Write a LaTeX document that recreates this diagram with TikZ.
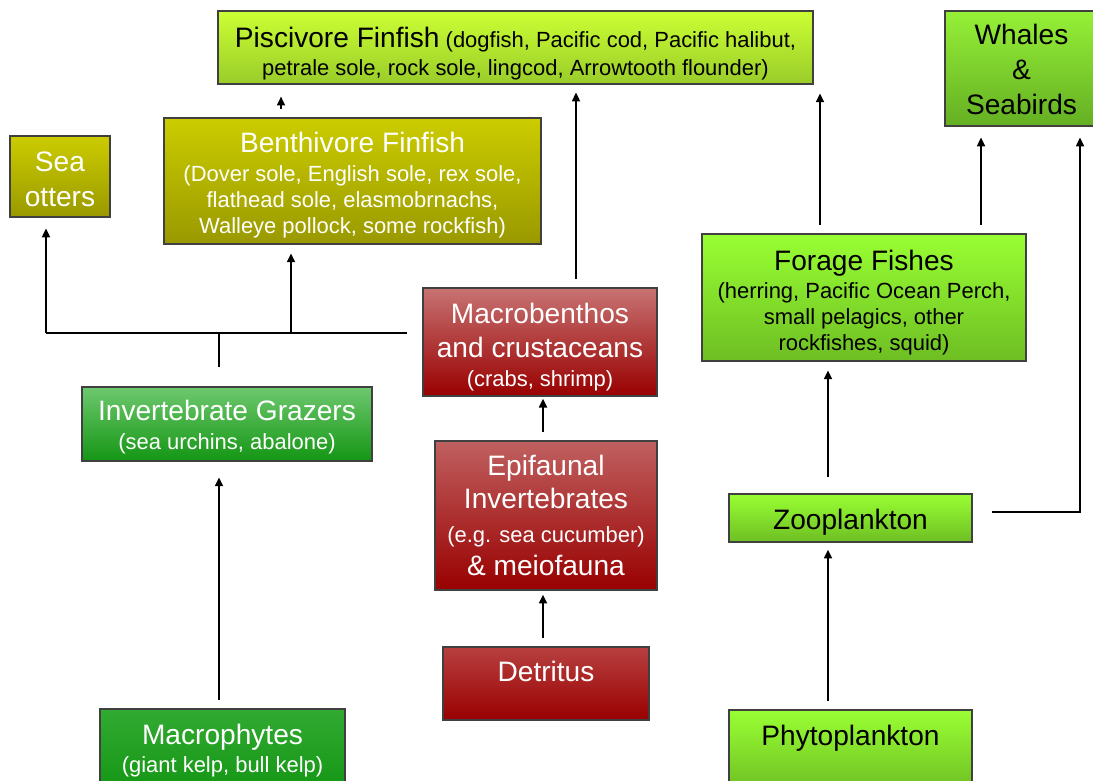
\documentclass[tikz,border=0pt]{standalone}
\usepackage{fontspec}
\setmainfont{Liberation Sans}
\usetikzlibrary{arrows.meta}

\definecolor{piscTop}{RGB}{204,255,51}
\definecolor{piscBot}{RGB}{153,204,41}
\definecolor{limeTop}{RGB}{153,255,51}
\definecolor{limeBot}{RGB}{110,190,35}
\definecolor{whaleTop}{RGB}{150,240,55}
\definecolor{whaleBot}{RGB}{100,175,35}
\definecolor{oliveTop}{RGB}{204,204,0}
\definecolor{oliveBot}{RGB}{153,153,0}
\definecolor{redBot}{RGB}{153,0,0}
\definecolor{kelpTop}{RGB}{110,200,110}
\definecolor{kelpBot}{RGB}{20,150,20}

\newcommand{\bigtxt}{\fontsize{16}{19}\selectfont}
\newcommand{\smltxt}{\fontsize{12.5}{14.7}\selectfont}
\newcommand{\txtdrop}[1]{\rule{0pt}{#1}}

\tikzset{
  box/.style={draw=black!75, line width=0.7pt, inner sep=0pt, align=center, font=\smltxt},
  lime/.style={box, top color=limeTop, bottom color=limeBot, text=black},
  olive/.style={box, top color=oliveTop, bottom color=oliveBot, text=white},
  benthic/.style={box, bottom color=redBot, text=white},
  kelp/.style={box, top color=kelpTop, bottom color=kelpBot, text=white},
  feeds/.style={-{Triangle[length=5pt,width=4.5pt]}, line width=1.1pt, shorten <=5pt, shorten >=5pt},
  wire/.style={line width=1.3pt}
}

\begin{document}
\begin{tikzpicture}[x=0.02cm, y=-0.02cm]
\useasboundingbox (0,0) rectangle (1093,781);
\clip (0,0) rectangle (1093,781);

% predators
\node[lime, top color=piscTop, bottom color=piscBot, minimum width=11.9cm, minimum height=1.46cm] (pisc) at (515.5,47.5)
  {\txtdrop{18.5pt}{\bigtxt Piscivore Finfish} (dogfish, Pacific cod, Pacific halibut,\\[1.7pt]petrale sole, rock sole, lingcod, Arrowtooth flounder)};
\node[lime, top color=whaleTop, bottom color=whaleBot, font=\bigtxt, minimum width=3.06cm, minimum height=2.3cm] (whale) at (1021.5,68.5)
  {\txtdrop{13pt}Whales\\[0.8pt]\&\\[0.8pt]Seabirds};
\node[olive, font=\bigtxt, minimum width=2cm, minimum height=1.62cm] (otter) at (60,176.5) {\txtdrop{14pt}Sea\\[0.8pt]otters};
\node[olive, minimum width=7.54cm, minimum height=2.52cm] (bent) at (352.5,181)
  {\txtdrop{16.2pt}{\bigtxt Benthivore Finfish}\\[1.7pt](Dover sole, English sole, rex sole,\\flathead sole, elasmobrnachs,\\Walleye pollock, some rockfish)};

% middle
\node[lime, minimum width=6.48cm, minimum height=2.54cm] (forage) at (864,297.5)
  {\txtdrop{17.4pt}{\bigtxt Forage Fishes}\\[1.2pt](herring, Pacific Ocean Perch,\\small pelagics, other\\rockfishes, squid)};
\node[benthic, top color={rgb,255:red,200;green,115;blue,115}, minimum width=4.68cm, minimum height=2.16cm] (macro) at (540,342)
  {\txtdrop{17.4pt}{\bigtxt Macrobenthos}\\[4.6pt]{\bigtxt and crustaceans}\\[1.7pt](crabs, shrimp)};
\node[kelp, minimum width=5.8cm, minimum height=1.48cm] (graz) at (227,424)
  {\txtdrop{15.1pt}{\bigtxt Invertebrate Grazers}\\[1.7pt](sea urchins, abalone)};
\node[benthic, top color={rgb,255:red,192;green,96;blue,96}, font=\bigtxt, minimum width=4.44cm, minimum height=2.98cm] (epi) at (546,515.5)
  {Epifaunal\\Invertebrates\\{\smltxt (e.g. sea cucumber)}\\\& meiofauna};
\node[lime, font=\bigtxt, minimum width=4.86cm, minimum height=0.96cm] (zoo) at (850.5,518) {\txtdrop{16.2pt}Zooplankton};

% producers
\node[benthic, top color={rgb,255:red,184;green,64;blue,64}, font=\bigtxt, text height=11.5pt, text depth=14pt, minimum width=4.12cm, minimum height=1.46cm] (det) at (546,683.5) {Detritus};
\node[kelp, top color={rgb,255:red,50;green,170;blue,50}, minimum width=4.9cm, minimum height=1.66cm] (macph) at (222.5,750.5)
  {{\bigtxt Macrophytes}\\[1.7pt](giant kelp, bull kelp)};
\node[lime, font=\bigtxt, text height=11.5pt, text depth=18.3pt, minimum width=4.86cm, minimum height=1.64cm] (phyto) at (850.5,751) {Phytoplankton};

% benthic chain
\draw[feeds, shorten >=6.8pt] (bent.north -| 281,0) -- (pisc.south -| 281,0);
\draw[feeds, shorten >=4.5pt] (macro.north -| 576,0) -- (pisc.south -| 576,0);
\draw[feeds, shorten >=1.2pt] (epi.north -| 543,0) -- (macro.south -| 543,0);
\draw[feeds, shorten >=2.3pt] (det.north -| 543,0) -- (epi.south -| 543,0);

% pelagic chain
\draw[feeds] (forage.north -| 820,0) -- (pisc.south -| 820,0);
\draw[feeds, shorten >=6.2pt] (forage.north -| 981,0) -- (whale.south -| 981,0);
\draw[feeds, shorten <=9.6pt] (zoo.north -| 828,0) -- (forage.south -| 828,0);
\draw[feeds, shorten >=4pt] (phyto.north -| 828,0) -- (zoo.south -| 828,0);
\draw[feeds, shorten <=10.8pt, shorten >=6.2pt] (zoo.east |- 0,512) -| (whale.south -| 1080,0);

% kelp chain
\draw[feeds, shorten <=4.5pt, shorten >=9pt] (macph.north -| 219,0) -- (graz.south -| 219,0);
\coordinate (bus) at (219,333);
\draw[wire, shorten <=10.8pt] (graz.north -| bus) -- (bus);
\draw[wire, shorten >=8.5pt] (bus -| 46,0) -- (bus -| macro.west);
\draw[feeds, shorten <=0pt, shorten >=6.2pt] (bus -| 46,0) -- (otter.south -| 46,0);
\draw[feeds, shorten <=0pt] (bus -| 291,0) -- (bent.south -| 291,0);
\end{tikzpicture}
\end{document}
